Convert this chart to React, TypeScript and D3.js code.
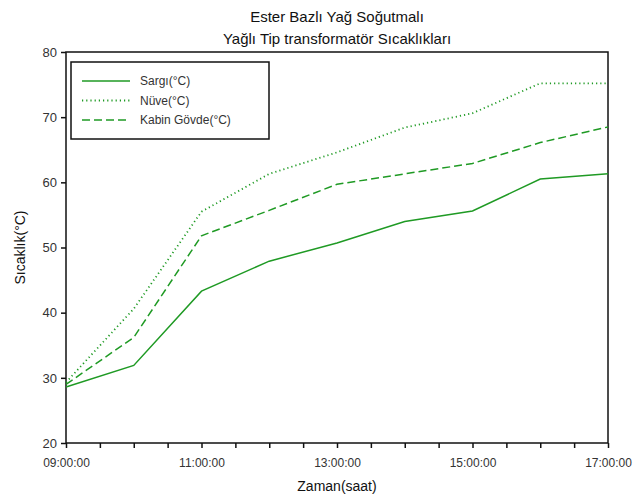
import { useRef, useLayoutEffect } from "react";
import * as d3 from "d3";

const hours = [9, 10, 11, 12, 13, 14, 15, 16, 17];
const sargi = [28.6, 31.9, 43.3, 47.9, 50.7, 54.0, 55.6, 60.5, 61.3];
const nuve = [29.3, 40.6, 55.5, 61.3, 64.6, 68.4, 70.6, 75.2, 75.2];
const kabin = [29.0, 36.2, 51.8, 55.7, 59.7, 61.3, 62.9, 66.1, 68.5];
const seriesNames = ["Sargı(°C)", "Nüve(°C)", "Kabin Gövde(°C)"];
const yTicks = [20, 30, 40, 50, 60, 70, 80];

const W = 643;
const H = 500;
const margin = { top: 52, right: 35, bottom: 57, left: 66 };
const green = "#1f9a24";
const dashes = ["none", "1.2 3", "8 4"];

const toDate = (h: number) => new Date(2020, 0, 1, h, 0, 0);

export default function App() {
  const svgRef = useRef<SVGSVGElement | null>(null);

  useLayoutEffect(() => {
    if (!svgRef.current) return;
    const svg = d3.select(svgRef.current);
    svg.selectAll("*").remove();

    const x = d3
      .scaleTime()
      .domain([toDate(9), toDate(17)])
      .range([margin.left, W - margin.right]);
    const y = d3
      .scaleLinear()
      .domain([20, 80])
      .range([H - margin.bottom, margin.top]);

    const font = "'Liberation Sans', Arial, sans-serif";

    // title
    const title = svg.append("text").attr("text-anchor", "middle").attr("font-family", font).attr("font-size", 15).attr("fill", "#111");
    title.append("tspan").attr("x", (margin.left + W - margin.right) / 2).attr("y", 22).text("Ester Bazlı Yağ Soğutmalı");
    title.append("tspan").attr("x", (margin.left + W - margin.right) / 2).attr("y", 44).text("Yağlı Tip transformatör Sıcaklıkları");

    // frame
    svg
      .append("rect")
      .attr("x", margin.left)
      .attr("y", margin.top)
      .attr("width", W - margin.left - margin.right)
      .attr("height", H - margin.top - margin.bottom)
      .attr("fill", "none")
      .attr("stroke", "#111")
      .attr("stroke-width", 1.5);

    // x axis: ticks every half hour, labels every two hours
    const fmt = d3.timeFormat("%H:%M:%S");
    const xAxis = d3
      .axisBottom(x)
      .ticks(d3.timeMinute.every(30))
      .tickSize(5)
      .tickFormat((d) => {
        const dt = d as Date;
        return dt.getMinutes() === 0 && (dt.getHours() - 9) % 2 === 0 ? fmt(dt) : "";
      });
    const gx = svg.append("g").attr("transform", `translate(0,${H - margin.bottom})`).call(xAxis);
    gx.select(".domain").remove();
    gx.selectAll("line").attr("stroke", "#111").attr("stroke-width", 1.5);
    gx.selectAll("text").attr("font-family", font).attr("font-size", 12).attr("fill", "#333").attr("dy", "1.3em");

    // y axis
    const yAxis = d3.axisLeft(y).tickValues(yTicks).tickSize(5).tickFormat(d3.format("d"));
    const gy = svg.append("g").attr("transform", `translate(${margin.left},0)`).call(yAxis);
    gy.select(".domain").remove();
    gy.selectAll("line").attr("stroke", "#111").attr("stroke-width", 1.5);
    gy.selectAll("text").attr("font-family", font).attr("font-size", 13).attr("fill", "#333").attr("x", -9);

    // axis labels
    svg
      .append("text")
      .attr("x", (margin.left + W - margin.right) / 2)
      .attr("y", 491)
      .attr("text-anchor", "middle")
      .attr("font-family", font)
      .attr("font-size", 14)
      .attr("fill", "#111")
      .text("Zaman(saat)");
    svg
      .append("text")
      .attr("transform", `translate(25,${(margin.top + H - margin.bottom) / 2}) rotate(-90)`)
      .attr("text-anchor", "middle")
      .attr("font-family", font)
      .attr("font-size", 14)
      .attr("fill", "#111")
      .text("Sıcaklık(°C)");

    // lines
    const line = d3
      .line<number>()
      .x((_, i) => x(toDate(hours[i])))
      .y((d) => y(d));
    [sargi, nuve, kabin].forEach((s, i) => {
      svg
        .append("path")
        .attr("d", line(s))
        .attr("fill", "none")
        .attr("stroke", green)
        .attr("stroke-width", i === 1 ? 1.8 : 1.5)
        .attr("stroke-dasharray", dashes[i]);
    });

    // legend
    const lg = svg.append("g");
    lg.append("rect")
      .attr("x", 71)
      .attr("y", 62)
      .attr("width", 198)
      .attr("height", 77)
      .attr("fill", "white")
      .attr("stroke", "#111")
      .attr("stroke-width", 1.5);
    seriesNames.forEach((name, i) => {
      const ly = 81 + i * 19.5;
      lg.append("line")
        .attr("x1", 82)
        .attr("x2", 130)
        .attr("y1", ly)
        .attr("y2", ly)
        .attr("stroke", green)
        .attr("stroke-width", i === 1 ? 1.8 : 1.5)
        .attr("stroke-dasharray", dashes[i]);
      lg.append("text")
        .attr("x", 140)
        .attr("y", ly + 4)
        .attr("font-family", font)
        .attr("font-size", 12)
        .attr("fill", "#333")
        .text(name);
    });
  }, []);

  return <svg ref={svgRef} width={W} height={H} style={{ display: "block", position: "absolute", left: 0, top: 0 }} />;
}
